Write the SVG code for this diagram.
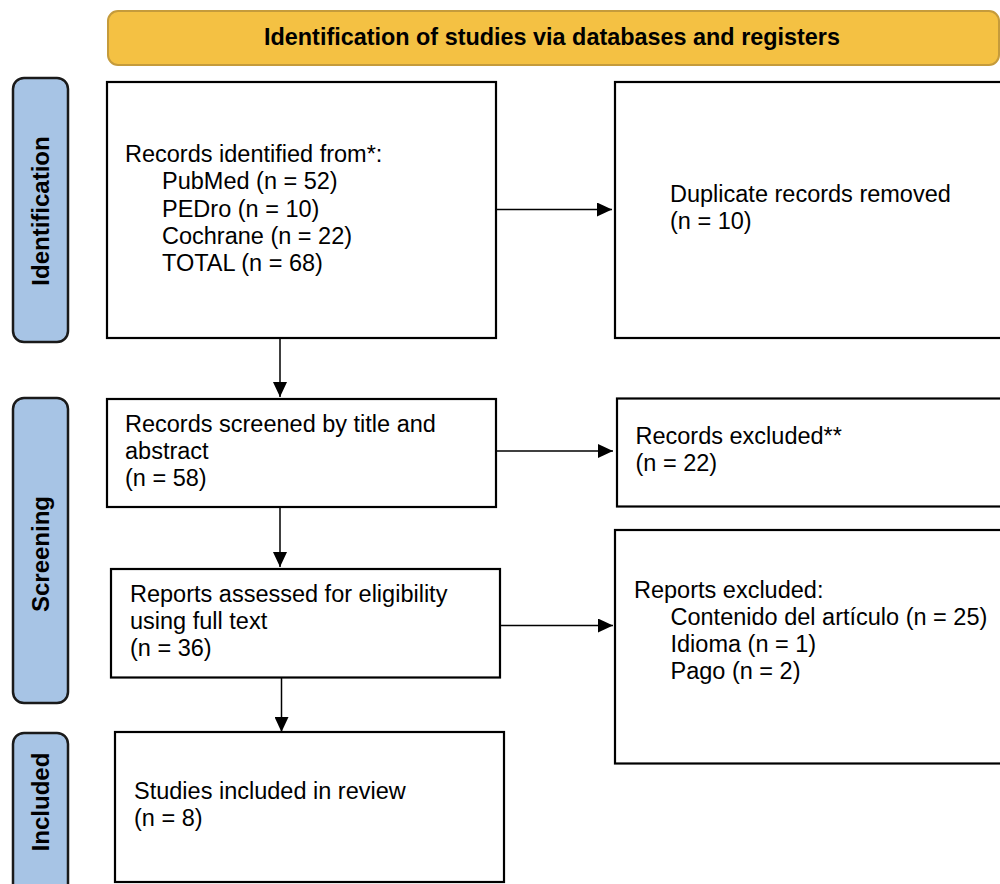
<svg xmlns="http://www.w3.org/2000/svg" width="1000" height="884" viewBox="0 0 1000 884">
<defs>
<marker id="ah" markerWidth="16" markerHeight="14" refX="15" refY="7" orient="auto" markerUnits="userSpaceOnUse">
<path d="M0,0 L15,7 L0,14 Z" fill="#000"/>
</marker>
<style>
.box{fill:#fff;stroke:#000;stroke-width:2.2}
.side{fill:#A7C4E5;stroke:#1a1a1a;stroke-width:2.5}
.hdr{fill:#F4C143;stroke:#C59B3B;stroke-width:2}
.t{font-family:"Liberation Sans",Arial,sans-serif;font-size:23.5px;fill:#000}
.b{font-family:"Liberation Sans",Arial,sans-serif;font-weight:bold;fill:#000}
.c{stroke:#000;stroke-width:1.5;fill:none;marker-end:url(#ah)}
</style>
</defs>
<rect width="1000" height="884" fill="#fff"/>

<g id="header">
<rect class="hdr" x="108" y="11" width="891" height="54" rx="10"/>
<text class="b" x="552" y="45" font-size="23.4" text-anchor="middle" textLength="576" lengthAdjust="spacingAndGlyphs">Identification of studies via databases and registers</text>
</g>

<g id="phase-identification">
<rect class="side" x="13" y="78" width="55" height="264" rx="11"/>
<text class="b" font-size="24" text-anchor="middle" transform="translate(48.5,211) rotate(-90)">Identification</text>
</g>
<g id="phase-screening">
<rect class="side" x="13" y="398" width="55" height="305" rx="11"/>
<text class="b" font-size="24" text-anchor="middle" transform="translate(48.5,554) rotate(-90)">Screening</text>
</g>
<g id="phase-included">
<rect class="side" x="13" y="733" width="55" height="170" rx="11"/>
<text class="b" font-size="24" text-anchor="middle" transform="translate(48.5,802) rotate(-90)">Included</text>
</g>

<g id="records-identified">
<rect class="box" x="107" y="82" width="389" height="256"/>
<text class="t" x="125" y="162">Records identified from*:</text>
<text class="t" x="162" y="189">PubMed (n = 52)</text>
<text class="t" x="162" y="216.5">PEDro (n = 10)</text>
<text class="t" x="162" y="244">Cochrane (n = 22)</text>
<text class="t" x="162" y="271">TOTAL (n = 68)</text>
</g>

<g id="duplicates-removed">
<rect class="box" x="615" y="82" width="400" height="256"/>
<text class="t" x="670" y="202">Duplicate records removed</text>
<text class="t" x="670" y="229">(n = 10)</text>
</g>

<g id="records-screened">
<rect class="box" x="107" y="399" width="389" height="108"/>
<text class="t" x="125" y="432">Records screened by title and</text>
<text class="t" x="125" y="459">abstract</text>
<text class="t" x="125" y="486">(n = 58)</text>
</g>

<g id="records-excluded">
<rect class="box" x="617" y="398.5" width="400" height="108"/>
<text class="t" x="635.5" y="444">Records excluded**</text>
<text class="t" x="635.5" y="471">(n = 22)</text>
</g>

<g id="reports-assessed">
<rect class="box" x="111" y="569" width="389" height="108.5"/>
<text class="t" x="130" y="602">Reports assessed for eligibility</text>
<text class="t" x="130" y="629">using full text</text>
<text class="t" x="130" y="656">(n = 36)</text>
</g>

<g id="reports-excluded">
<rect class="box" x="615" y="530" width="400" height="233.5"/>
<text class="t" x="634" y="598">Reports excluded:</text>
<text class="t" x="670.5" y="625">Contenido del artículo (n = 25)</text>
<text class="t" x="670.5" y="652">Idioma (n = 1)</text>
<text class="t" x="670.5" y="678.5">Pago (n = 2)</text>
</g>

<g id="studies-included">
<rect class="box" x="115" y="732" width="389" height="150"/>
<text class="t" x="134" y="799">Studies included in review</text>
<text class="t" x="134" y="826">(n = 8)</text>
</g>

<g id="connectors">
<line class="c" x1="496" y1="209.5" x2="612" y2="209.5"/>
<line class="c" x1="280" y1="338" x2="280" y2="397"/>
<line class="c" x1="496" y1="451" x2="613" y2="451"/>
<line class="c" x1="280" y1="507" x2="280" y2="567"/>
<line class="c" x1="500" y1="625.5" x2="613" y2="625.5"/>
<line class="c" x1="281.5" y1="677.5" x2="281.5" y2="732"/>
</g>
</svg>
